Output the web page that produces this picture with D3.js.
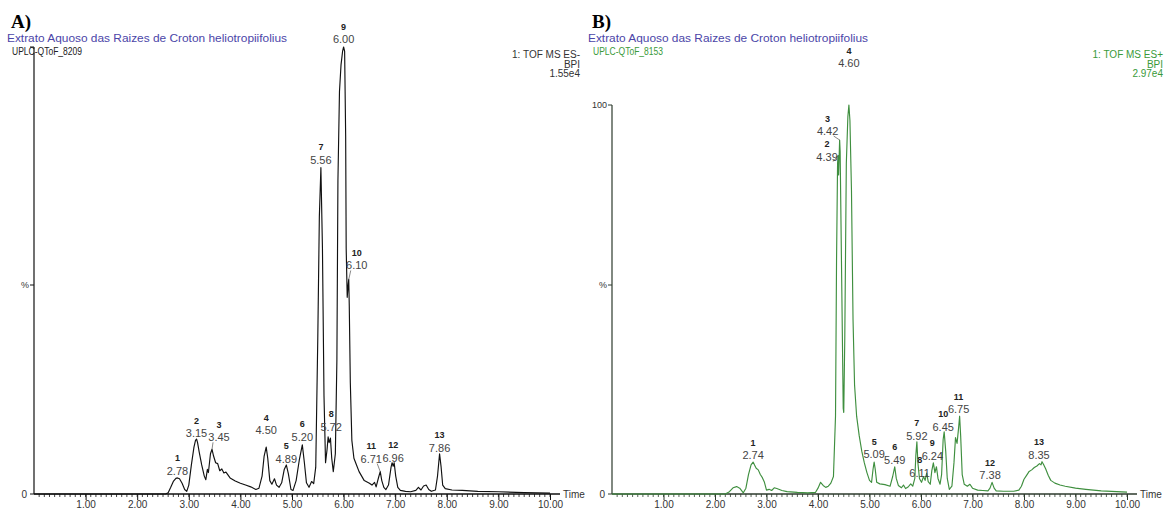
<!DOCTYPE html>
<html>
<head>
<meta charset="utf-8">
<script src="https://cdn.jsdelivr.net/npm/d3@7"></script>
<style>
  body { margin: 0; background: #fff; }
  svg text { font-family: 'Liberation Sans', Arial, sans-serif; }
</style>
</head>
<body>
<svg id="chart" width="1166" height="510"></svg>
<script>
'use strict';

// ---- data ----
var timeA = [0, 2.55, 2.6, 2.65, 2.7, 2.75, 2.78, 2.82, 2.87, 2.92, 2.96, 3.0, 3.05, 3.1, 3.13, 3.15, 3.17, 3.2, 3.25, 3.3,
  3.33, 3.36, 3.38, 3.42, 3.45, 3.48, 3.52, 3.56, 3.6, 3.64, 3.68, 3.72, 3.8, 3.9, 4.0, 4.1, 4.2, 4.3, 4.36, 4.42,
  4.46, 4.5, 4.53, 4.57, 4.61, 4.66, 4.7, 4.75, 4.8, 4.85, 4.89, 4.93, 4.98, 5.02, 5.08, 5.14, 5.2, 5.24, 5.28, 5.33,
  5.38, 5.42, 5.46, 5.5, 5.53, 5.56, 5.59, 5.62, 5.65, 5.68, 5.7, 5.72, 5.745, 5.77, 5.8, 5.84, 5.87, 5.89, 5.92, 5.95,
  5.98, 6.0, 6.02, 6.04, 6.05, 6.07, 6.09, 6.1, 6.11, 6.13, 6.16, 6.2, 6.25, 6.3, 6.4, 6.5, 6.55, 6.6, 6.63, 6.68,
  6.71, 6.74, 6.78, 6.82, 6.87, 6.92, 6.94, 6.96, 6.98, 7.01, 7.05, 7.1, 7.2, 7.3, 7.4, 7.45, 7.5, 7.55, 7.6, 7.65,
  7.7, 7.78, 7.82, 7.86, 7.89, 7.92, 7.97, 8.1, 8.3, 8.6, 9.0, 9.5, 10.0];
var intensityA = [0, 0, 0.3, 1.5, 2.8, 3.5, 3.6, 3.4, 2.4, 1.0, 0.6, 2.0, 6.5, 10.5, 12.0, 12.3, 11.5, 9.5, 6.5, 4.0,
  3.2, 5.5, 4.8, 9.0, 10.0, 8.5, 7.0, 6.8, 5.2, 5.6, 4.7, 4.9, 3.6, 2.9, 2.4, 2.0, 1.6, 1.0, 1.3, 4.0,
  8.5, 10.5, 8.0, 3.0, 2.2, 3.4, 2.0, 1.5, 2.5, 5.5, 6.5, 4.5, 1.0, 0.8, 3.0, 7.5, 11.0, 7.0, 2.5, 1.5,
  2.8, 2.3, 6.0, 35, 62, 73, 55, 22, 7.0, 10, 12.8, 11.5, 12.5, 8.0, 5.0, 9, 30, 70, 90, 96,
  99, 100, 99, 80, 55, 44, 47, 48, 42, 25, 12, 8, 6.5, 5.0, 3.0, 2.4, 2.0, 2.6, 1.6, 3.8,
  5.0, 3.0, 1.5, 1.0, 2.0, 6.0, 7.0, 6.2, 7.0, 4.0, 1.5, 0.8, 0.6, 0.5, 0.8, 1.5, 0.9, 1.8, 2.0, 1.0,
  0.6, 0.9, 4.0, 9.0, 6.0, 2.0, 1.2, 0.9, 0.8, 0.6, 0.5, 0.3, 0.2];

var timeB = [0, 2.2, 2.28, 2.35, 2.42, 2.48, 2.55, 2.6, 2.65, 2.7, 2.74, 2.77, 2.8, 2.84, 2.88, 2.92, 2.96, 3.0, 3.05, 3.1,
  3.15, 3.2, 3.3, 3.4, 3.6, 3.8, 3.95, 4.0, 4.05, 4.1, 4.15, 4.2, 4.25, 4.3, 4.34, 4.36, 4.38, 4.39, 4.4, 4.42,
  4.43, 4.46, 4.49, 4.5, 4.52, 4.55, 4.58, 4.6, 4.62, 4.65, 4.68, 4.71, 4.75, 4.8, 4.85, 4.9, 4.95, 5.0, 5.04, 5.07,
  5.09, 5.11, 5.14, 5.2, 5.3, 5.4, 5.45, 5.49, 5.52, 5.56, 5.62, 5.66, 5.7, 5.75, 5.8, 5.84, 5.88, 5.9, 5.92, 5.94,
  5.97, 6.01, 6.05, 6.08, 6.11, 6.14, 6.18, 6.21, 6.24, 6.27, 6.3, 6.33, 6.37, 6.4, 6.43, 6.45, 6.48, 6.51, 6.55, 6.6,
  6.64, 6.67, 6.7, 6.73, 6.75, 6.77, 6.8, 6.84, 6.9, 6.95, 7.0, 7.1, 7.2, 7.3, 7.34, 7.38, 7.42, 7.46, 7.6, 7.8,
  7.9, 7.95, 8.0, 8.05, 8.1, 8.15, 8.2, 8.25, 8.3, 8.33, 8.35, 8.38, 8.42, 8.47, 8.52, 8.6, 8.7, 8.8, 9.0, 9.2,
  9.5, 9.8, 10.0];
var intensityB = [0, 0, 0.6, 1.6, 1.9, 1.5, 0.3, 1.5, 5.0, 7.5, 8.2, 7.4, 6.6, 6.2, 5.0, 4.2, 3.0, 1.0, 1.2, 0.9,
  1.6, 1.4, 0.9, 0.6, 0.4, 0.3, 0.4, 1.5, 3.0, 2.2, 1.7, 2.0, 2.8, 4.5, 20, 60, 85, 87, 82, 91,
  88, 55, 22, 21, 40, 85, 97, 100, 96, 78, 45, 28, 20, 15, 11, 8, 5.5, 3.5, 3.0, 6.5,
  8.2, 6.5, 3.0, 2.6, 2.4, 2.0, 4.5, 7.0, 4.0, 2.2, 1.6, 2.3, 1.4, 1.8, 2.6, 2.0, 4.0, 10, 13.4, 8,
  4.0, 3.0, 4.5, 3.5, 5.4, 3.2, 2.5, 6.0, 8.0, 5.5, 7.0, 4.0, 2.5, 5.0, 14, 16, 11, 4.0, 1.2, 2.0,
  8.0, 14.5, 13.0, 17, 20, 15, 5, 2.5, 2.0, 2.5, 1.5, 1.0, 0.9, 0.8, 1.5, 3.0, 1.5, 0.8, 0.7, 0.7,
  1.0, 2.0, 3.8, 4.8, 5.8, 6.2, 6.8, 7.2, 7.8, 7.5, 8.3, 7.6, 6.5, 4.8, 3.5, 2.8, 2.3, 2.0, 1.5, 1.2,
  0.8, 0.6, 0.5];

var peakNoA = ['1', '2', '3', '4', '5', '6', '7', '8', '9', '10', '11', '12', '13'];
var peakRtA = [2.78, 3.15, 3.45, 4.50, 4.89, 5.20, 5.56, 5.72, 6.00, 6.10, 6.71, 6.96, 7.86];
var peakHtA = [3.6, 12.3, 10.0, 10.5, 6.5, 11.0, 73, 12.8, 100, 48, 5.0, 7.0, 9.0];

var peakNoB = ['1', '2', '3', '4', '5', '6', '7', '8', '9', '10', '11', '12', '13'];
var peakRtB = [2.74, 4.39, 4.42, 4.60, 5.09, 5.49, 5.92, 6.11, 6.24, 6.45, 6.75, 7.38, 8.35];
var peakHtB = [8.2, 87, 91, 100, 8.2, 7.0, 13.4, 5.4, 8.0, 16, 20, 3.0, 8.3];

var timeTicks = [1, 2, 3, 4, 5, 6, 7, 8, 9, 10];
var minorTicks = d3.range(1, 101).map(function(i) { return i / 10; });

// ---- layout ----
// label nudges: [dx, lift above apex, leader line]
var labelPosA = [[0, 3], [0, 2], [7, 8, 1], [0, 13], [0, 2], [0, 4], [0, 4], [2, 6], [0, 4], [8, 10, 1], [-9, 9, 1], [0, 1], [0, 2]];
var labelPosB = [[0, 3], [-11, -5, 1], [-12, 5, 1], [0, 38], [0, 4], [0, 3], [0, 2], [-7, -4], [-1, 3], [-1, 1], [-1, 3], [-2, 3], [-3, 3]];

var panels = [
  {
    id: 'A', letter: 'A)', x0: 34, x1: 550, yTop: 47, left: 7, right: 580, color: '#111',
    axisColor: '#111', run: 'UPLC-QToF_8209', runColor: '#222', mode: '1: TOF MS ES-', scaleMax: '1.55e4',
    infoColor: '#333', time: timeA, value: intensityA, no: peakNoA, rt: peakRtA, ht: peakHtA, lab: labelPosA, show100: false
  },
  {
    id: 'B', letter: 'B)', x0: 612, x1: 1127, yTop: 105, left: 588, right: 1163, color: '#3f8f3f',
    axisColor: '#2d3a2d', run: 'UPLC-QToF_8153', runColor: '#3a9a3a', mode: '1: TOF MS ES+', scaleMax: '2.97e4',
    infoColor: '#3a9a3a', time: timeB, value: intensityB, no: peakNoB, rt: peakRtB, ht: peakHtB, lab: labelPosB, show100: true
  }
];

var BASE = 494;
var PCT_Y = 288;
var svg = d3.select('#chart');

panels.forEach(function(p) {
  var g = svg.append('g').attr('id', 'panel-' + p.id);

  var x = d3.scaleLinear().domain([0, 10]).range([p.x0, p.x1]);
  var y = d3.scaleLinear().domain([0, 100]).range([BASE, p.yTop]);

  // headings
  g.append('text')
    .attr('x', p.left + 4).attr('y', 28)
    .style('font-family', "'Liberation Serif', 'Times New Roman', serif")
    .style('font-weight', 'bold').style('font-size', '19px')
    .text(p.letter);

  g.append('text')
    .attr('x', p.left).attr('y', 42)
    .attr('textLength', 280).attr('lengthAdjust', 'spacingAndGlyphs')
    .style('font-size', '11.5px').style('fill', '#4b45a8')
    .text('Extrato Aquoso das Raizes de Croton heliotropiifolius');

  g.append('text')
    .attr('x', p.left + 5).attr('y', 55)
    .attr('textLength', 70).attr('lengthAdjust', 'spacingAndGlyphs')
    .style('font-size', '10.5px').style('fill', p.runColor)
    .text(p.run);

  var info = g.append('text')
    .attr('text-anchor', 'end')
    .style('font-size', '10px').style('fill', p.infoColor);
  [p.mode, 'BPI', p.scaleMax].forEach(function(t, i) {
    info.append('tspan').attr('x', p.right).attr('y', 58 + i * 9.5).text(t);
  });

  // x axis
  var axisX = d3.axisBottom(x)
    .tickValues(timeTicks)
    .tickFormat(d3.format('.2f'))
    .tickSize(6)
    .tickSizeOuter(0);

  var ax = g.append('g')
    .attr('transform', 'translate(0,' + BASE + ')')
    .call(axisX);
  ax.select('.domain').attr('stroke', p.axisColor).attr('stroke-width', 1.6)
    .attr('d', 'M' + p.x0 + ',0H' + (p.x1 + 10));
  ax.selectAll('.tick line').attr('stroke', p.axisColor);
  ax.selectAll('.tick text').attr('y', 13.5).attr('dy', null)
    .style('font-size', '10px').style('fill', '#333').style('font-family', "'Liberation Sans', Arial, sans-serif");

  g.append('g').selectAll('line')
    .data(minorTicks)
    .enter()
    .append('line')
    .attr('x1', function(d) { return x(d); })
    .attr('x2', function(d) { return x(d); })
    .attr('y1', BASE)
    .attr('y2', BASE + 3)
    .attr('stroke', p.axisColor)
    .attr('stroke-width', 0.8);

  g.append('text')
    .attr('x', p.x1 + 13).attr('y', BASE + 4)
    .style('font-size', '10px').style('fill', '#333')
    .text('Time');

  // y axis
  g.append('line')
    .attr('x1', p.x0).attr('x2', p.x0)
    .attr('y1', BASE).attr('y2', y(100))
    .attr('stroke', p.axisColor).attr('stroke-width', 1.2);

  var yTicks = [0, 100];
  g.append('g').selectAll('line')
    .data(yTicks)
    .enter()
    .append('line')
    .attr('x1', p.x0 - 4).attr('x2', p.x0)
    .attr('y1', function(d) { return y(d); })
    .attr('y2', function(d) { return y(d); })
    .attr('stroke', p.axisColor);

  g.append('line')
    .attr('x1', p.x0 - 4).attr('x2', p.x0)
    .attr('y1', PCT_Y - 3).attr('y2', PCT_Y - 3)
    .attr('stroke', p.axisColor);

  g.append('text')
    .attr('x', p.x0 - 7).attr('y', BASE + 4)
    .attr('text-anchor', 'end')
    .style('font-size', '10px').style('fill', '#333')
    .text('0');

  g.append('text')
    .attr('x', p.x0 - 5).attr('y', PCT_Y)
    .attr('text-anchor', 'end')
    .style('font-size', '9px').style('fill', '#333')
    .text('%');

  if (p.show100) {
    g.append('text')
      .attr('x', p.x0 - 5).attr('y', y(100) + 3)
      .attr('text-anchor', 'end')
      .style('font-size', '9px').style('fill', '#333')
      .text('100');
  }

  // trace
  var pts = p.time.map(function(t, i) { return [t, p.value[i]]; });
  var line = d3.line()
    .x(function(d) { return x(d[0]); })
    .y(function(d) { return y(d[1]); });

  g.append('path')
    .datum(pts)
    .attr('d', line)
    .attr('fill', 'none')
    .attr('stroke', p.color)
    .attr('stroke-width', 1.15)
    .attr('stroke-linejoin', 'round');

  // peak labels
  var labels = g.append('g').attr('class', 'peak-labels');
  p.rt.forEach(function(rt, i) {
    var pos = p.lab[i];
    var ax0 = x(rt), ay0 = y(p.ht[i]);
    var lx = ax0 + pos[0];
    var by = ay0 - pos[1];

    if (pos[2]) {
      labels.append('line')
        .attr('x1', ax0).attr('y1', ay0)
        .attr('x2', lx + (pos[0] > 0 ? -6 : 6)).attr('y2', by + 1)
        .attr('stroke', '#555').attr('stroke-width', 0.7);
    }

    labels.append('text')
      .attr('x', lx).attr('y', by)
      .attr('text-anchor', 'middle')
      .style('font-size', '11px').style('fill', '#444')
      .text(rt.toFixed(2));

    labels.append('text')
      .attr('x', lx).attr('y', by - 13.5)
      .attr('text-anchor', 'middle')
      .style('font-size', '9px').style('font-weight', 'bold').style('fill', '#222')
      .text(p.no[i]);
  });
});
</script>
</body>
</html>
